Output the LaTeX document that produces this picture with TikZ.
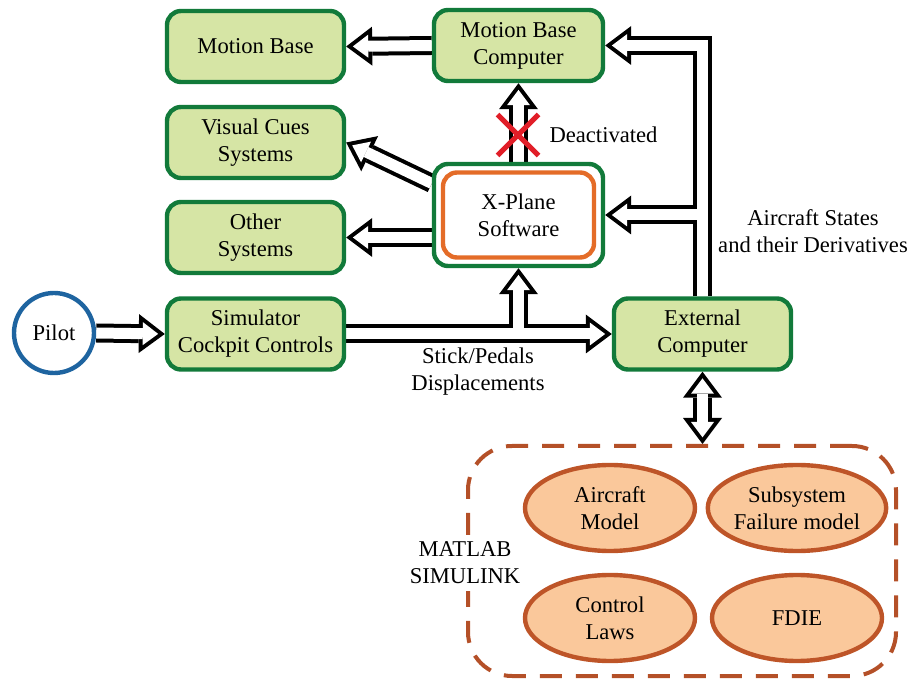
\documentclass[tikz,border=0pt]{standalone}
\usepackage{fontspec}
\setmainfont{Liberation Serif}
\usetikzlibrary{arrows.meta}
\usetikzlibrary{shapes.geometric}
\usetikzlibrary{shapes.misc}
\usetikzlibrary{positioning}
\usetikzlibrary{backgrounds}
\definecolor{boxline}{RGB}{18,122,58}
\definecolor{boxfill}{RGB}{214,229,165}
\definecolor{xpline}{RGB}{228,108,40}
\definecolor{pilotline}{RGB}{30,100,160}
\definecolor{modline}{RGB}{190,85,40}
\definecolor{modfill}{RGB}{250,200,155}
\definecolor{dashline}{RGB}{180,80,40}
\definecolor{xred}{RGB}{225,30,40}
\tikzset{
  unit/.style={draw=boxline, fill=boxfill, line width=2.2pt, rounded corners=7pt,
    minimum width=88.5pt, minimum height=35.5pt, align=center, inner sep=0pt},
  pc/.style={unit, minimum width=84.5pt},
  model/.style={ellipse, draw=modline, fill=modfill, line width=2.2pt,
    minimum width=85pt, minimum height=43pt, align=center, inner sep=0pt},
}

\begin{document}
\begin{tikzpicture}[x=0.5pt, y=-0.5pt, font=\fontsize{11.3}{13.5}\selectfont]
    \useasboundingbox (0,0) rectangle (910,683);
    \node[unit] (mb) at (255.5,46.5) {Motion Base};
    \node[pc] (mbc) at (518.5,45.5) {Motion Base\\Computer};
    \node[unit] (vis) at (255.5,142.5) {Visual Cues\\Systems};
    \node[unit] (oth) at (255.5,237.5) {Other\\Systems};
    \node[pc, fill=white, minimum height=51pt] (xp) at (518.5,215) {};
    \node[draw=xpline, line width=2.2pt, rounded corners=7pt, minimum width=75.5pt,
      minimum height=42.5pt, align=center, inner sep=0pt] (xpin) at (xp) {X-Plane\\Software};
    \node[circle, draw=pilotline, line width=2.2pt, minimum size=40pt, inner sep=0pt] (pilot) at (54,333) {Pilot};
    \node[unit] (sim) at (255.5,334) {Simulator\\Cockpit Controls};
    \node[unit] (ext) at (702.5,334) {External\\Computer};

    \node[draw=dashline, line width=2pt, dash pattern=on 11pt off 7pt, rounded corners=22pt,
      minimum width=214pt, minimum height=115pt] (matlab) at (682,561) {};
    \node[model] (acm) at (610,508) {Aircraft\\Model};
    \node[model] (fail) at (797,508) {Subsystem\\Failure model};
    \node[model] (law) at (610,618) {Control\\Laws};
    \node[model] (fdie) at (797,618) {FDIE};
    \node[fill=white, align=center] (mlab) at (465,563) {MATLAB\\SIMULINK};

    \begin{scope}[on background layer]
    \foreach \lw/\tl/\tw/\cut/\col in {9.5pt/13pt/19.5pt/0pt/black, 5.5pt/7.67pt/11.5pt/3.33pt/white} {
      \begin{scope}[line width=\lw, draw=\col,
          >={Triangle[length=\tl, width=\tw, line width=0pt]}]
        \draw[->, shorten >=\cut] (pilot.east) -- (sim.west);
        \draw[->, shorten >=\cut] (sim.east) -- (ext.west);
        \draw[->, shorten >=\cut] (sim.east) -| (xp.south);
        \draw[->, shorten >=\cut] (ext.north) |- (xp.east);
        \draw[->, shorten >=\cut] (ext.north) |- (mbc.east);
        \draw[->, shorten >=\cut] (mbc.west) -- (mb.east);
        \draw[->, shorten >=\cut] (xp.160) -- (vis.east);
        \draw[->, shorten >=\cut] (xp.west |- oth.east) -- (oth.east);
        \draw[->, shorten >=\cut] (xp.north) -- (mbc.south);
        \draw[<->, shorten >=\cut, shorten <=\cut] (ext.south) -- (ext.south |- matlab.north);
      \end{scope}
    }
    \end{scope}

    \node[cross out, draw=xred, line width=2.5pt, minimum size=18pt, inner sep=0pt] (off) at (518,135) {};
    \node[right=2pt of off] (deact) {Deactivated};
    \node[align=center] (states) at (813,231) {Aircraft States\\and their Derivatives};
    \node[align=center] (stick) at (478,372) {Stick/Pedals\\Displacements};
  \end{tikzpicture}
\end{document}
